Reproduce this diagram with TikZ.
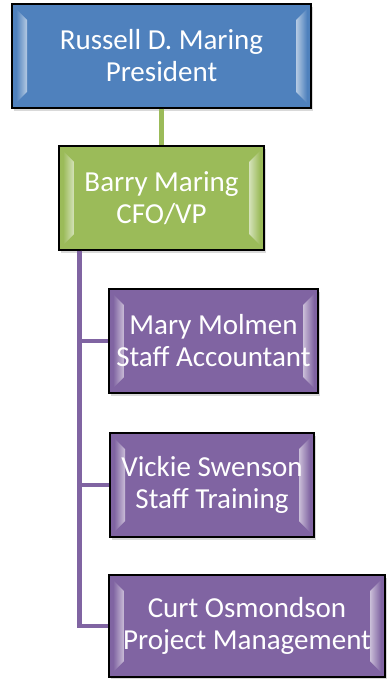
\documentclass[tikz,border=0pt]{standalone}
\usepackage{fontspec}
\setmainfont{Carlito}
\usetikzlibrary{shadows}
\definecolor{presblue}{HTML}{4F81BD}
\definecolor{cfogreen}{HTML}{9BBB59}
\definecolor{staffpurple}{HTML}{8064A2}
\begin{document}
\begin{tikzpicture}[x=1pt, y=-1pt,
  box/.style={draw=black, line width=1.2pt, minimum height=104pt, inner sep=0pt, fill=#1,
    text=white, align=center, font=\fontsize{29}{32}\selectfont,
    drop shadow={opacity=0.3, shadow xshift=2pt, shadow yshift=-3pt},
    % bevel strips on both sides, under the text
    path picture={
      \path (path picture bounding box.north west) coordinate (nw)
            (path picture bounding box.south east) coordinate (se);
      \shade [left color=#1, right color=#1!35!white, opacity=0.9]
           ([shift={(4,5)}]nw) -- ([shift={(15,16)}]nw)
        -- ([shift={(15,-16)}]nw |- se) -- ([shift={(4,-5)}]nw |- se) -- cycle;
      \shade [left color=#1!35!white, right color=#1, opacity=0.9]
           ([shift={(-4,5)}]nw -| se) -- ([shift={(-15,16)}]nw -| se)
        -- ([shift={(-15,-16)}]se) -- ([shift={(-4,-5)}]se) -- cycle;
    }},
  link/.style={line width=4.5pt}]
\useasboundingbox (0,0) rectangle (386,679);

\node [box=presblue, minimum width=299pt] (pres) at (161.5, 56) {Russell D. Maring\\President};
\node [box=cfogreen, minimum width=205pt] (cfo) at (161.5, 198) {Barry Maring\\CFO/VP};
\node [box=staffpurple, minimum width=209pt] (mary) at (213.5, 341) {Mary Molmen\\Staff Accountant};
\node [box=staffpurple, minimum width=204pt] (vickie) at (212, 485) {Vickie Swenson\\Staff Training};
\node [box=staffpurple, minimum width=276pt, minimum height=102pt] (curt) at (247, 626) {Curt Osmondson\\Project Management};

\draw [link, cfogreen] (pres) -- (cfo);

\path (cfo.south west) ++(21, 0) coordinate (trunk);
\draw [link, staffpurple] (trunk) |- (mary.west);
\draw [link, staffpurple] (trunk) |- (vickie.west);
\draw [link, staffpurple] (trunk) |- (curt.west);

\end{tikzpicture}
\end{document}
